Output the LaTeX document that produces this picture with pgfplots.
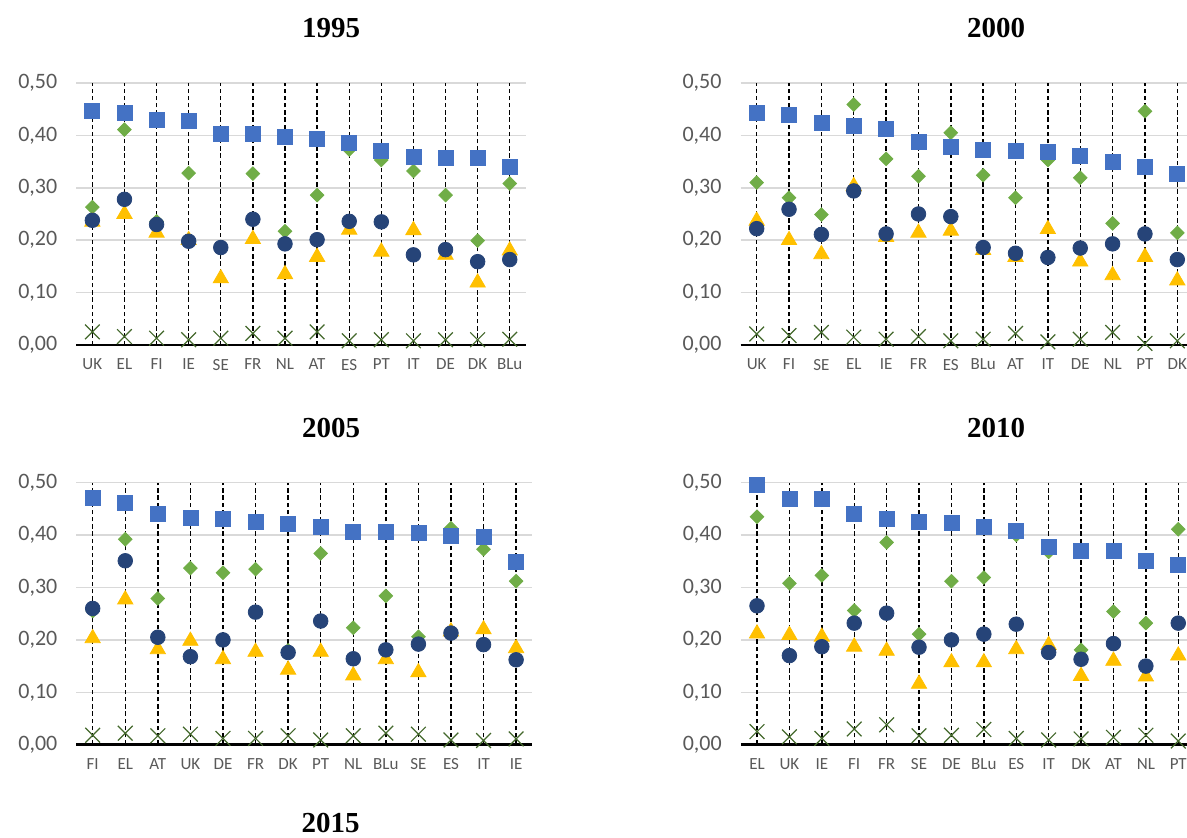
\documentclass[border=0pt]{standalone}
\usepackage{pgfplots}
\usepackage{pgfplotstable}
\pgfplotsset{compat=1.18}
\usepackage{fontspec}
\setmainfont{Carlito}
\newfontfamily\titlefont{Liberation Serif}

\definecolor{sqblue}{HTML}{4472C4}
\definecolor{digreen}{HTML}{70AD47}
\definecolor{cinavy}{HTML}{264478}
\definecolor{tryellow}{HTML}{FFC000}
\definecolor{xgreen}{HTML}{43682B}
\definecolor{ticktext}{HTML}{595959}
\definecolor{gridgray}{HTML}{D9D9D9}

% columns: sq = squares, di = diamonds, ci = circles, tr = triangles, xx = crosses, dl = top of drop line
% 1995: UK EL FI IE SE FR NL AT ES PT IT DE DK BLu
\pgfplotstableread{
x  sq    di    ci    tr    xx    dl
0  0.446 0.263 0.238 0.235 0.025 0.50
1  0.443 0.411 0.278 0.250 0.016 0.50
2  0.429 0.236 0.230 0.214 0.013 0.50
3  0.428 0.328 0.198 0.200 0.010 0.50
4  0.403 0.186 0.186 0.127 0.013 0.50
5  0.402 0.327 0.240 0.202 0.022 0.50
6  0.398 0.217 0.193 0.135 0.013 0.50
7  0.394 0.286 0.201 0.168 0.025 0.50
8  0.386 0.373 0.236 0.220 0.008 0.50
9  0.370 0.353 0.235 0.178 0.010 0.50
10 0.358 0.332 0.172 0.219 0.008 0.50
11 0.357 0.286 0.182 0.172 0.010 0.50
12 0.357 0.199 0.159 0.119 0.010 0.50
13 0.339 0.308 0.163 0.180 0.011 0.50
}\tabA
% 2000: UK FI SE EL IE FR ES BLu AT IT DE NL PT DK
\pgfplotstableread{
x  sq    di    ci    tr    xx    dl
0  0.443 0.310 0.222 0.237 0.021 0.50
1  0.440 0.281 0.259 0.200 0.018 0.50
2  0.424 0.249 0.211 0.173 0.024 0.50
3  0.419 0.459 0.294 0.303 0.015 0.50
4  0.413 0.355 0.212 0.206 0.011 0.50
5  0.388 0.322 0.250 0.214 0.016 0.50
6  0.378 0.405 0.245 0.218 0.008 0.50
7  0.372 0.324 0.186 0.181 0.011 0.50
8  0.370 0.281 0.175 0.168 0.022 0.50
9  0.368 0.353 0.167 0.221 0.006 0.50
10 0.361 0.319 0.185 0.159 0.011 0.50
11 0.349 0.232 0.193 0.133 0.024 0.50
12 0.340 0.446 0.212 0.168 0.003 0.50
13 0.326 0.214 0.163 0.123 0.008 0.50
}\tabB
% 2005: FI EL AT UK DE FR DK PT NL BLu SE ES IT IE
\pgfplotstableread{
x  sq    di    ci    tr    xx    dl
0  0.471 0.255 0.260 0.203 0.018 0.50
1  0.461 0.392 0.351 0.277 0.022 0.50
2  0.440 0.279 0.205 0.182 0.017 0.50
3  0.432 0.337 0.168 0.198 0.020 0.50
4  0.431 0.328 0.200 0.163 0.012 0.50
5  0.426 0.335 0.253 0.177 0.012 0.50
6  0.422 0.180 0.176 0.143 0.017 0.50
7  0.416 0.365 0.236 0.177 0.009 0.50
8  0.406 0.223 0.164 0.132 0.017 0.50
9  0.406 0.284 0.181 0.163 0.022 0.50
10 0.404 0.206 0.192 0.138 0.020 0.50
11 0.398 0.413 0.213 0.216 0.009 0.50
12 0.396 0.373 0.191 0.220 0.008 0.50
13 0.349 0.312 0.162 0.184 0.011 0.50
}\tabC
% 2010: EL UK IE FI FR SE DE BLu ES IT DK AT NL PT
\pgfplotstableread{
x  sq    di    ci    tr    xx    dl
0  0.496 0.435 0.265 0.212 0.025 0.50
1  0.469 0.308 0.170 0.209 0.015 0.50
2  0.469 0.323 0.187 0.206 0.012 0.50
3  0.440 0.256 0.232 0.187 0.030 0.50
4  0.430 0.386 0.251 0.179 0.038 0.50
5  0.426 0.211 0.186 0.116 0.017 0.50
6  0.423 0.312 0.200 0.157 0.018 0.50
7  0.415 0.319 0.211 0.157 0.029 0.50
8  0.408 0.400 0.230 0.182 0.012 0.50
9  0.378 0.368 0.176 0.190 0.009 0.50
10 0.369 0.181 0.163 0.131 0.011 0.50
11 0.369 0.254 0.193 0.160 0.014 0.50
12 0.351 0.232 0.150 0.130 0.018 0.50
13 0.344 0.411 0.232 0.170 0.007 0.50
}\tabD

\pgfplotsset{
  panel/.style={
    scale only axis, height=131pt, clip=false,
    ymin=0, ymax=0.5, xmin=-0.5,
    ytick={0,0.1,0.2,0.3,0.4,0.5},
    xtick={0,...,13},
    major tick length=0pt,
    ymajorgrids, grid style={gridgray, line width=0.75pt},
    axis x line*=bottom, axis y line*=left,
    y axis line style={draw=none},
    x axis line style={black, line width=1.25pt, -},
    /pgf/number format/.cd, fixed, fixed zerofill, precision=2, use comma,
      assume math mode=true, /pgfplots/.cd,
    yticklabel style={font=\fontsize{11}{13}\selectfont, text=ticktext, xshift=-6pt},
    xticklabel style={font=\fontsize{8.5}{10}\selectfont, text=ticktext, yshift=-3.5pt},
  },
  drop/.style={ycomb, black, line width=0.7pt, dash pattern=on 2.2pt off 1.4pt, no marks},
  crs/.style={only marks, mark=x, mark size=5.2pt, xgreen, mark options={line width=0.6pt}},
  dia/.style={only marks, mark=square*, mark size=2.4pt, digreen, mark options={rotate=45}},
  tri/.style={only marks, mark=triangle*, mark size=4.4pt, tryellow},
  cir/.style={only marks, mark=*, mark size=3.65pt, cinavy},
  sqr/.style={only marks, mark=square*, mark size=3.75pt, sqblue},
}

\newcommand{\series}[1]{%
  \addplot[drop] table[x=x, y=dl] {#1};
  \addplot[crs] table[x=x, y=xx] {#1};
  \addplot[dia] table[x=x, y=di] {#1};
  \addplot[tri] table[x=x, y=tr] {#1};
  \addplot[cir] table[x=x, y=ci] {#1};
  \addplot[sqr] table[x=x, y=sq] {#1};
}

\begin{document}
\begin{tikzpicture}
\useasboundingbox (0,0) rectangle (593.5pt,419pt);

\begin{axis}[panel, at={(38.15pt,246.5pt)}, anchor=south west,
  width=224.75pt, xmax=13.5,
  xticklabels={UK,EL,FI,IE,SE,FR,NL,AT,ES,PT,IT,DE,DK,BLu}]
\series{\tabA}
\end{axis}

\begin{axis}[panel, at={(370.25pt,246.5pt)}, anchor=south west,
  width=223.25pt, xmax=13.3,
  xticklabels={UK,FI,SE,EL,IE,FR,ES,BLu,AT,IT,DE,NL,PT,DK}]
\series{\tabB}
\end{axis}

\begin{axis}[panel, at={(38.2pt,46.65pt)}, anchor=south west,
  width=228pt, xmax=13.5,
  xticklabels={FI,EL,AT,UK,DE,FR,DK,PT,NL,BLu,SE,ES,IT,IE}]
\series{\tabC}
\end{axis}

\begin{axis}[panel, at={(370.4pt,46.65pt)}, anchor=south west,
  width=223.1pt, xmax=13.27,
  xticklabels={EL,UK,IE,FI,FR,SE,DE,BLu,ES,IT,DK,AT,NL,PT}]
\series{\tabD}
\end{axis}

\begin{scope}[every node/.style={font=\titlefont\bfseries\fontsize{14.5}{17}\selectfont, inner sep=0pt}]
\node at (165.5pt,405pt) {1995};
\node at (498pt,405pt) {2000};
\node at (165.5pt,205pt) {2005};
\node at (498pt,205pt) {2010};
\node[anchor=base] at (165.25pt,2.5pt) {2015};
\end{scope}
\end{tikzpicture}
\end{document}
